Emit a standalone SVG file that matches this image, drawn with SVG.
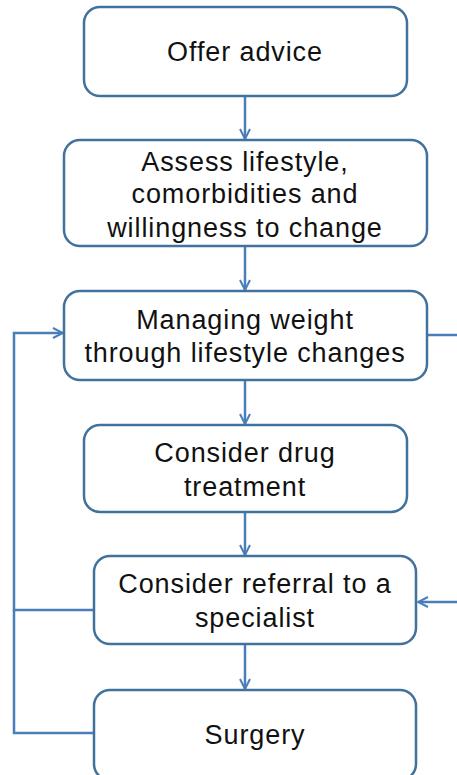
<svg xmlns="http://www.w3.org/2000/svg" width="457" height="775" viewBox="0 0 457 775">
<defs>
<style>
.box{fill:#fff;stroke:#41719C;stroke-width:2.5}
.t{font-family:"Liberation Sans","Open Sans",sans-serif;font-size:27px;letter-spacing:0.9px;fill:#111;text-anchor:middle}
.c{fill:none;stroke:#4A7EBB;stroke-width:2.5}
</style>
<marker id="a" viewBox="0 0 12 12" refX="11" refY="6" markerWidth="12" markerHeight="12" markerUnits="userSpaceOnUse" orient="auto">
<path d="M1,1 L11,6 L1,11" fill="none" stroke="#4A7EBB" stroke-width="2"/>
</marker>
</defs>
<rect width="457" height="775" fill="#fff"/>
<g id="connectors">
<line class="c" x1="245" y1="96" x2="245" y2="139" marker-end="url(#a)"/>
<line class="c" x1="245" y1="246" x2="245" y2="290" marker-end="url(#a)"/>
<line class="c" x1="245" y1="380" x2="245" y2="424" marker-end="url(#a)"/>
<line class="c" x1="245" y1="512" x2="245" y2="555" marker-end="url(#a)"/>
<line class="c" x1="245" y1="644" x2="245" y2="689" marker-end="url(#a)"/>
<path class="c" d="M94,610 H14 V333 H63" marker-end="url(#a)"/>
<path class="c" d="M94,733 H14 V610"/>
<line class="c" x1="428" y1="335" x2="457" y2="335"/>
<line class="c" x1="457" y1="602" x2="418" y2="602" marker-end="url(#a)"/>
</g>
<g id="n1"><rect class="box" x="84" y="7" width="323" height="89" rx="16"/><text class="t" x="245" y="61">Offer advice</text></g>
<g id="n2"><rect class="box" x="64" y="140" width="363" height="106" rx="16"/><text class="t" x="245" y="171">Assess lifestyle,</text><text class="t" x="245" y="203">comorbidities and</text><text class="t" x="245" y="237">willingness to change</text></g>
<g id="n3"><rect class="box" x="64" y="291" width="363" height="89" rx="16"/><text class="t" x="245" y="329">Managing weight</text><text class="t" x="245" y="362">through lifestyle changes</text></g>
<g id="n4"><rect class="box" x="84" y="425" width="323" height="87" rx="16"/><text class="t" x="245" y="462">Consider drug</text><text class="t" x="245" y="496">treatment</text></g>
<g id="n5"><rect class="box" x="94" y="556" width="322" height="88" rx="16"/><text class="t" x="255" y="593">Consider referral to a</text><text class="t" x="255" y="627">specialist</text></g>
<g id="n6"><rect class="box" x="94" y="690" width="322" height="90" rx="16"/><text class="t" x="255" y="744">Surgery</text></g>
</svg>
